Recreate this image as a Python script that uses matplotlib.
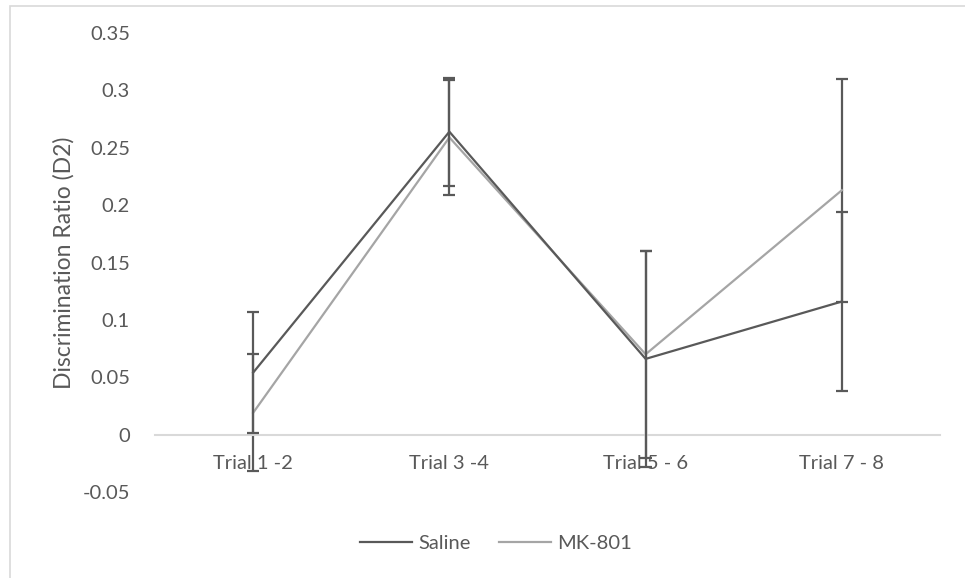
import numpy as np
import matplotlib
matplotlib.use("Agg")
from matplotlib import pyplot as plt
from matplotlib.patches import Rectangle
from matplotlib.lines import Line2D

# Data
trials = ["Trial 1 -2", "Trial 3 -4", "Trial 5 - 6", "Trial 7 - 8"]
saline = [0.054, 0.264, 0.066, 0.116]
saline_err = [0.053, 0.047, 0.094, 0.078]
mk801 = [0.019, 0.259, 0.070, 0.213]
mk801_err = [0.051, 0.050, 0.090, 0.097]

plt.rcParams['font.family'] = ['Lato', 'DejaVu Sans']
text_col = '#595959'
saline_col = '#595959'
mk_col = '#a5a5a5'

fig = plt.figure(figsize=(9.65, 5.78), dpi=100)
ax = fig.add_axes([155 / 965, 1 - 492 / 578, 785 / 965, 459 / 578])

x = np.arange(1, len(trials) + 1)
ax.errorbar(x, saline, yerr=saline_err, color=saline_col, ecolor='#595959',
            lw=1.6, elinewidth=1.6, capsize=4.5, capthick=1.6, zorder=3)
ax.errorbar(x, mk801, yerr=mk801_err, color=mk_col, ecolor='#595959',
            lw=1.6, elinewidth=1.6, capsize=4.5, capthick=1.6, zorder=2)

ax.set_xlim(0.5, len(trials) + 0.5)
ax.set_ylim(-0.05, 0.35)
ax.set_yticks(np.arange(-0.05, 0.36, 0.05))
ax.set_yticklabels(['-0.05', '0', '0.05', '0.1', '0.15', '0.2', '0.25', '0.3', '0.35'])
ax.set_xticks(x)
ax.set_xticklabels(trials)

for s in ['top', 'right', 'left']:
    ax.spines[s].set_visible(False)
ax.spines['bottom'].set_position(('data', 0))
ax.spines['bottom'].set_color('#d9d9d9')
ax.spines['bottom'].set_linewidth(1.5)
ax.tick_params(axis='both', length=0, colors=text_col, labelsize=14.5)
ax.tick_params(axis='y', pad=18)
ax.tick_params(axis='x', pad=15)
ax.set_ylabel('Discrimination Ratio (D2)', fontsize=16.5, color=text_col, labelpad=6)

handles = [Line2D([], [], color=saline_col, lw=1.6),
           Line2D([], [], color=mk_col, lw=1.6)]
leg = fig.legend(handles, ['Saline', 'MK-801'], loc='center',
                 bbox_to_anchor=(496 / 965, 1 - 543 / 578), ncol=2,
                 frameon=False, fontsize=14.5, handlelength=2.6, handletextpad=0.3,
                 columnspacing=1.4)
for t in leg.get_texts():
    t.set_color(text_col)

# light chart-area border (cut off at right and bottom like the reference)
fig.patches.append(Rectangle((10 / 965, -0.1), 2.0, 1 - 6 / 578 + 0.1,
                             transform=fig.transFigure, fill=False,
                             edgecolor='#d9d9d9', lw=1.2))

fig.savefig('out.png', dpi=100)
